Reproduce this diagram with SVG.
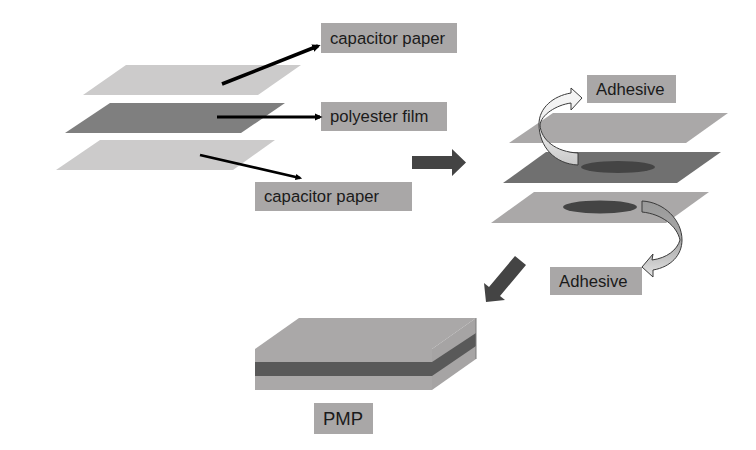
<svg xmlns="http://www.w3.org/2000/svg" width="756" height="450" viewBox="0 0 756 450">
<style>
text{font-family:"Liberation Sans",Arial,sans-serif;font-size:16.7px;fill:#1a1a1a}
.box{fill:#a9a7a7}
.light{fill:#cccbcb}
.mid{fill:#7f7f7f}
.paper{fill:#aaa8a8}
.film{fill:#707070}
.glue{fill:#444}
.block{fill:#444}
.ln{stroke:#000;fill:none}
.curve{stroke:#3a3a3a;stroke-width:1}
</style>
<defs>
<marker id="a" markerWidth="2.4" markerHeight="2.4" refX="1.6" refY="1.2" orient="auto"><path d="M0,0.1L2.4,1.2L0,2.3Z" fill="#000"/></marker>
<linearGradient id="g1" x1="0" y1="0" x2="0" y2="1"><stop offset="0" stop-color="#f6f6f6"/><stop offset="0.5" stop-color="#eeeeee"/><stop offset="1" stop-color="#c8c8c8"/></linearGradient>
<linearGradient id="g2" x1="0" y1="0" x2="0" y2="1"><stop offset="0" stop-color="#999"/><stop offset="0.55" stop-color="#aaa"/><stop offset="1" stop-color="#e4e4e4"/></linearGradient>
</defs>
<g id="sheets-left">
<polygon class="light" points="126,65 301,65 258,95 83,95"/>
<polygon class="mid" points="110,103 285,103 241,133 65,133"/>
<polygon class="light" points="100,140 275,140 233,170 56,170"/>
</g>
<g id="sheets-right">
<polygon class="paper" points="553,113 728,113 686,143 509,143"/>
<polygon class="film" points="546,152 721,152 677,183 503,183"/>
<polygon class="paper" points="534,192 709,192 666,223 491,223"/>
<ellipse class="glue" cx="618" cy="167" rx="37" ry="6"/>
<ellipse class="glue" cx="600" cy="207" rx="37" ry="6.5"/>
</g>
<g id="label-capacitor-top"><rect class="box" x="321" y="23" width="136" height="30"/><text x="330" y="44">capacitor paper</text></g>
<g id="label-polyester"><rect class="box" x="321" y="102" width="126" height="29"/><text x="330" y="122">polyester film</text></g>
<g id="label-capacitor-bottom"><rect class="box" x="255" y="182" width="157" height="29"/><text x="264" y="202">capacitor paper</text></g>
<g id="label-adhesive-top"><rect class="box" x="587" y="75" width="89" height="28"/><text x="596" y="95">Adhesive</text></g>
<g id="label-adhesive-bottom"><rect class="box" x="550" y="267" width="92" height="28"/><text x="559" y="287">Adhesive</text></g>
<g id="block-pmp">
<polygon class="paper" points="299,318 476,318 432,349 255,349"/>
<rect class="paper" x="255" y="349" width="177" height="41"/>
<polygon fill="#a6a4a4" points="476,318 476,359 432,390 432,349"/>
<rect fill="#595959" x="255" y="362" width="177" height="14"/>
<polygon fill="#595959" points="432,362 476,333 476,346 432,376"/>
<line x1="476" y1="318" x2="476" y2="359" stroke="#7a7a7a" stroke-width="1"/>
</g>
<g id="label-pmp"><rect class="box" x="314" y="403" width="59" height="31"/><text x="323" y="425" style="font-size:18.5px">PMP</text></g>
<g id="connectors">
<line class="ln" x1="222" y1="84" x2="318" y2="46" stroke-width="3.5" marker-end="url(#a)"/>
<line class="ln" x1="217" y1="117" x2="320" y2="117" stroke-width="3.2" marker-end="url(#a)"/>
<line class="ln" x1="200" y1="155" x2="300" y2="178" stroke-width="2.8" marker-end="url(#a)"/>
<polygon class="block" points="412,156 452,156 452,149 466,162.5 452,176 452,169 412,169"/>
<polygon class="block" points="515,256 526,265 500,296 505,300 486,302 484,283 489,287"/>
<path class="curve" fill="url(#g1)" d="M578,153 L578,165 C555,164 539,147 539,124 C539,108 553,96 571,93 L571,88 L582,98 L571,110 L571,103 C556,105 541,115 540,125 C541,140 556,152 578,153Z"/>
<path class="curve" fill="url(#g2)" d="M642,201 L642,212 C662,214 677,226 680,240 C677,250 667,258 652,260 L653,254 L642,267 L653,277 L653,270 C671,267 682,255 682,240 C682,220 664,202 642,201Z"/>
</g>
</svg>
